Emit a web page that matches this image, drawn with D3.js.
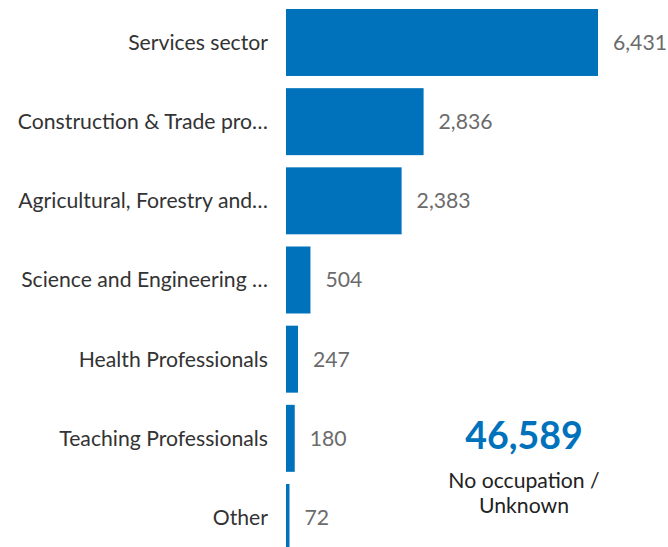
<!DOCTYPE html>
<html>
<head>
<meta charset="utf-8">
<script src="https://cdn.jsdelivr.net/npm/d3@7"></script>
<style>
  body { margin: 0; background: #fff; overflow: hidden; }
  svg { display: block; font-family: Lato, "Open Sans", sans-serif; }
</style>
</head>
<body>
<div id="main"></div>
<script>
// data
const categories = [
  "Services sector",
  "Construction & Trade pro…",
  "Agricultural, Forestry and…",
  "Science and Engineering …",
  "Health Professionals",
  "Teaching Professionals",
  "Other"
];
const counts = [6431, 2836, 2383, 504, 247, 180, 72];
const unknownCount = 46589;
const unknownLabel = ["No occupation /", "Unknown"];

const width = 668, height = 547;
const barLeft = 286;
const blue = "#0072bc";

const svg = d3.select("#main")
  .append("svg")
  .attr("width", width)
  .attr("height", height);

const x = d3.scaleLinear()
  .domain([0, d3.max(counts)])
  .range([0, 312]);

const y = d3.scaleBand()
  .domain(categories)
  .range([2.9, 2.9 + 7 * 79.17])
  .paddingInner(0.154)
  .paddingOuter(0.077);

const data = categories.map((c, i) => ({cat: c, value: counts[i]}));
const fmt = d3.format(",");

const g = svg.append("g").attr("transform", "translate(" + barLeft + ",0)");

g.selectAll("rect")
  .data(data)
  .enter()
  .append("rect")
  .attr("x", 0)
  .attr("y", d => y(d.cat))
  .attr("width", d => x(d.value))
  .attr("height", y.bandwidth())
  .attr("fill", blue);

// category labels
g.selectAll(".cat")
  .data(data)
  .enter()
  .append("text")
  .attr("class", "cat")
  .attr("x", -18)
  .attr("y", d => y(d.cat) + y.bandwidth() / 2)
  .attr("dy", "0.35em")
  .attr("text-anchor", "end")
  .attr("font-size", 21.2)
  .attr("fill", "#333")
  .text(d => d.cat);

// value labels
g.selectAll(".val")
  .data(data)
  .enter()
  .append("text")
  .attr("class", "val")
  .attr("x", d => x(d.value) + 15)
  .attr("y", d => y(d.cat) + y.bandwidth() / 2)
  .attr("dy", "0.35em")
  .attr("font-size", 21.2)
  .attr("fill", "#6b6b6b")
  .text(d => fmt(d.value));

// big number for the unknowns
const cx = 524;
svg.append("text")
  .attr("x", cx)
  .attr("y", 449)
  .attr("text-anchor", "middle")
  .attr("font-size", 37.5)
  .attr("font-weight", "bold")
  .attr("fill", blue)
  .text(fmt(unknownCount));

svg.selectAll(".note")
  .data(unknownLabel)
  .enter()
  .append("text")
  .attr("class", "note")
  .attr("x", cx)
  .attr("y", (d, i) => 488 + i * 25)
  .attr("text-anchor", "middle")
  .attr("font-size", 21.2)
  .attr("fill", "#222")
  .text(d => d);
</script>
</body>
</html>
